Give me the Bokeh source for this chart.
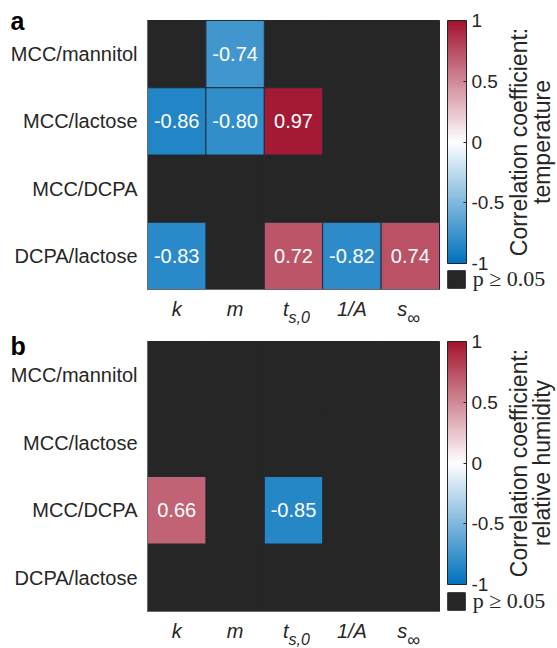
import numpy as np
from bokeh.plotting import figure
from bokeh.models import (Range1d, LinearColorMapper, ColorBar, Label, FixedTicker,
                          Legend, LegendItem, ColumnDataSource)
from bokeh.layouts import column
from bokeh.core.properties import value
from bokeh.embed import file_html
from bokeh.resources import INLINE

# ---------------- data ----------------
rows = ["MCC/mannitol", "MCC/lactose", "MCC/DCPA", "DCPA/lactose"]
params = ["k", "m", "t", "1/A", "s"]
param_subs = ["", "", "s,0", "", "\u221e"]

# correlation with temperature (None = not significant, p >= 0.05); rows in order above
temp_k = [None, -0.86, None, -0.83]
temp_m = [-0.74, -0.80, None, None]
temp_ts0 = [None, 0.97, None, 0.72]
temp_invA = [None, None, None, -0.82]
temp_sinf = [None, None, None, 0.74]

# correlation with relative humidity
rh_k = [None, None, 0.66, None]
rh_m = [None, None, None, None]
rh_ts0 = [None, None, -0.85, None]
rh_invA = [None, None, None, None]
rh_sinf = [None, None, None, None]

cbar_ticks = [-1, -0.5, 0, 0.5, 1]
cbar_tick_labels = ["-1", "-0.5", "0", "0.5", "1"]
cbar_title_a = ["Correlation coefficient:", "temperature"]
cbar_title_b = ["Correlation coefficient:", "relative humidity"]
ns_label = "p \u2265 0.05"

# ---------------- style / layout ----------------
FONT = "Liberation Sans"
SERIF = "Liberation Serif"
DARK = "#262626"
W = 557
HM_LEFT = 147      # heat-map left edge (px)
HM_W = 292         # heat-map width (px)
CB_LEFT = 447      # colour bar left edge (px)
CB_W = 19
CB_H = 243


def make_palette(n=256):
    lo = np.array([0, 114, 189], float)
    mid = np.array([255, 255, 255], float)
    hi = np.array([162, 20, 47], float)
    out = []
    for t in np.linspace(-1, 1, n):
        c = mid + (lo - mid) * (-t) if t < 0 else mid + (hi - mid) * t
        out.append("#%02x%02x%02x" % tuple(int(round(v)) for v in c))
    return out


mapper = LinearColorMapper(palette=make_palette(), low=-1, high=1)


def panel(columns, letter, letter_base, title_lines, H, hm_top, hm_h):
    n_cols, n_rows = len(params), len(rows)
    cell_w = HM_W / n_cols
    cell_h = hm_h / n_rows
    x0 = -HM_LEFT / cell_w
    ytop = -hm_top / cell_h
    p = figure(width=W, height=H,
               x_range=Range1d(x0, x0 + W / cell_w),
               y_range=Range1d(ytop + H / cell_h, ytop),
               x_axis_location=None, y_axis_location=None,
               output_backend="svg", toolbar_location=None,
               min_border=0, min_border_left=0, min_border_right=0,
               min_border_top=0, min_border_bottom=0)
    p.background_fill_color = "white"
    p.border_fill_color = "white"
    p.outline_line_color = None
    p.grid.visible = False

    nx, ny, sx, sy, sv, st = [], [], [], [], [], []
    for j, col in enumerate(columns):
        for i, v in enumerate(col):
            if v is None:
                nx.append(j + 0.5); ny.append(i + 0.5)
            else:
                sx.append(j + 0.5); sy.append(i + 0.5); sv.append(v); st.append(f"{v:.2f}")

    ns_r = p.rect(x=nx, y=ny, width=1, height=1, fill_color=DARK, line_color=DARK, line_width=1)
    src = ColumnDataSource(dict(x=sx, y=sy, v=sv, t=st))
    p.rect(x="x", y="y", width=1, height=1, source=src,
           fill_color={"field": "v", "transform": mapper}, line_color="#1e2a38", line_width=1)
    p.text(x="x", y="y", text="t", source=src, text_align="center", text_baseline="middle",
           text_font=value(FONT), text_font_size="20px", text_color="white")

    # heat-map left and bottom edges (axis lines)
    p.line(x=[0, 0, n_cols], y=[0, n_rows, n_rows], line_color="#6a6a6a", line_width=1)

    # row labels (y tick labels)
    p.text(x=[0] * n_rows, y=[i + 0.5 for i in range(n_rows)], text=rows, x_offset=-10,
           text_align="right", text_baseline="middle", text_font=value(FONT),
           text_font_size="20px", text_color=DARK)

    # parameter labels (x tick labels) with subscripts
    y_main = n_rows + 19 / cell_h
    y_sub = n_rows + 28 / cell_h
    for j, (name, sub) in enumerate(zip(params, param_subs)):
        if sub:
            off = -5 if sub != "\u221e" else -3
            p.text(x=[j + 0.5], y=[y_main], text=[name], x_offset=off, text_align="right",
                   text_baseline="alphabetic", text_font=value(FONT), text_font_style="italic",
                   text_font_size="20px", text_color=DARK)
            p.text(x=[j + 0.5], y=[y_sub], text=[sub], x_offset=off, text_align="left",
                   text_baseline="alphabetic", text_font=value(FONT),
                   text_font_style="italic" if sub != "\u221e" else "normal",
                   text_font_size="16px" if sub != "\u221e" else "18px", text_color=DARK)
        else:
            p.text(x=[j + 0.5], y=[y_main], text=[name], text_align="center",
                   text_baseline="alphabetic", text_font=value(FONT), text_font_style="italic",
                   text_font_size="20px", text_color=DARK)

    # colour bar
    cb = ColorBar(color_mapper=mapper, ticker=FixedTicker(ticks=cbar_ticks),
                  major_label_overrides={t: l for t, l in zip(cbar_ticks, cbar_tick_labels)},
                  width=CB_W, height=CB_H, location=(CB_LEFT, H - hm_top - CB_H),
                  padding=0, margin=0,
                  bar_line_color=DARK, bar_line_width=1,
                  major_tick_line_color=DARK, major_tick_in=3, major_tick_out=0,
                  minor_tick_line_color=None, label_standoff=5,
                  major_label_text_font=FONT, major_label_text_font_size="19px",
                  major_label_text_color=DARK,
                  background_fill_alpha=0, border_line_color=None)
    p.add_layout(cb, "center")

    # colour bar title, two centred lines reading upwards
    for k, line in enumerate(title_lines):
        p.add_layout(Label(x=518 + 23 * k, y=H - hm_top - CB_H / 2, x_units="screen", y_units="screen",
                           text=line, angle=np.pi / 2, text_align="center",
                           text_baseline="alphabetic", text_font=FONT, text_font_size="23px",
                           text_color=DARK))

    # legend for non-significant cells
    lg = Legend(items=[LegendItem(label=value(ns_label), renderers=[ns_r])],
                location=(CB_LEFT - 2.2, H - (hm_top + hm_h + 2.7)),
                glyph_width=22, glyph_height=22, label_height=22,
                padding=0, margin=0, spacing=0, label_standoff=6,
                border_line_color=None, background_fill_alpha=0,
                label_text_font=SERIF, label_text_font_size="22px", label_text_color=DARK)
    p.add_layout(lg, "center")

    # panel letter
    p.add_layout(Label(x=10, y=H - letter_base, x_units="screen", y_units="screen",
                       text=letter, text_font=FONT, text_font_style="bold",
                       text_font_size="25px", text_baseline="alphabetic", text_color="black"))
    return p


pa = panel([temp_k, temp_m, temp_ts0, temp_invA, temp_sinf], "a", 20, cbar_title_a, 330, 20, 269)
pb = panel([rh_k, rh_m, rh_ts0, rh_invA, rh_sinf], "b", 15, cbar_title_b, 318, 11, 270)

layout = column(pa, pb, spacing=0)
open("out.html", "w").write(file_html(layout, INLINE))
